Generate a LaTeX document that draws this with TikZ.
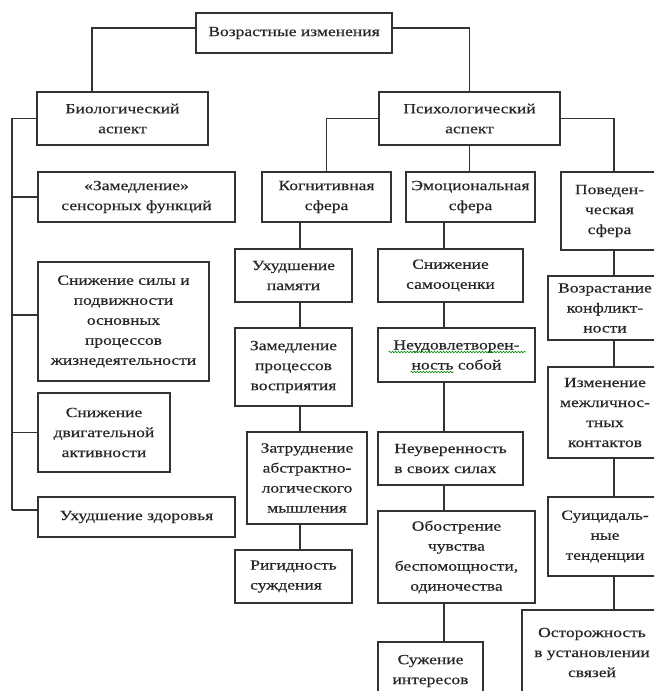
\documentclass[tikz,border=0pt]{standalone}
\usepackage{fontspec}
\setmainfont{Liberation Serif}[FakeStretch=1.25,FakeBold=0.4]
\usetikzlibrary{calc,decorations.pathmorphing}
\begin{document}
\begin{tikzpicture}[x=1pt,y=-1pt,
  box/.style={draw=black!80, line width=1.3pt, fill=white, align=center, inner sep=0pt,
    font=\fontsize{14}{20}\selectfont, text=black!85},
  conn/.style={draw=black!80, line width=1.3pt},
  spell/.style={draw=green!55!black, line width=0.6pt, decorate,
    decoration={snake, amplitude=0.8pt, segment length=3pt}}]
\useasboundingbox (0,0) rectangle (654,691);
\clip (0,0) rectangle (654,691);
\fill[white] (0,0) rectangle (654,691);

% helper coordinates
\coordinate (jTop) at (0,28);
\coordinate (xBio) at (92,0);
\coordinate (busL) at (12,0);
\coordinate (jSily) at (0,315);
\coordinate (jZdor) at (0,510);
\coordinate (xCog) at (300,0);
\coordinate (xEmo) at (444,0);
\coordinate (xBeh) at (614,0);

% level 0-1
\node[box, minimum width=196, minimum height=40] (top) at (294,33) {Возрастные изменения};
\node[box, minimum width=171, minimum height=53] (bio) at (122.5,118.5) {Биологический\\аспект};
\node[box, minimum width=181, minimum height=53] (psy) at (469.5,118.5) {Психологический\\аспект};

% biological
\node[box, minimum width=197, minimum height=50] (sens) at (136.5,197) {«Замедление»\\сенсорных функций};
\node[box, minimum width=171, minimum height=119] (sily) at (123.5,321.5) {Снижение силы и\\подвижности\\основных\\процессов\\жизнедеятельности};
\node[box, minimum width=132, minimum height=79] (dvig) at (104,432.5) {Снижение\\двигательной\\активности};
\node[box, minimum width=197, minimum height=40] (zdor) at (136.5,517) {Ухудшение здоровья};

% spheres
\node[box, minimum width=129, minimum height=50] (cog) at (326.5,197) {Когнитивная\\сфера};
\node[box, minimum width=129, minimum height=50] (emo) at (470.5,197) {Эмоциональная\\сфера};
\node[box, minimum width=97, minimum height=78] (beh) at (609.5,211) {Поведен-\\ческая\\сфера};

% cognitive
\node[box, minimum width=117, minimum height=53] (pam) at (293.5,275.5) {Ухудшение\\памяти};
\node[box, minimum width=117, minimum height=78] (zam) at (293.5,367) {Замедление\\процессов\\восприятия};
\node[box, minimum width=120, minimum height=92] (zat) at (307,478) {Затруднение\\абстрактно-\\логического\\мышления};
\node[box, align=left, minimum width=117, minimum height=53] (rig) at (293.5,576.5) {Ригидность\\суждения};

% emotional
\node[box, minimum width=145, minimum height=53] (sam) at (450.5,275.5) {Снижение\\самооценки};
\node[box, minimum width=157, minimum height=54] (neud) at (456.5,355) {Неудовлетворен-\\ность собой};
\node[box, align=left, minimum width=145, minimum height=53] (neuv) at (450.5,458.5) {Неуверенность\\в своих силах};
\node[box, minimum width=157, minimum height=92] (obo) at (456.5,557) {Обострение\\чувства\\беспомощности,\\одиночества};
\node[box, minimum width=105, minimum height=58] (suzh) at (430.5,671) {Сужение\\интересов};

% behavioural
\node[box, minimum width=114, minimum height=64] (voz) at (605,308) {Возрастание\\конфликт-\\ности};
\node[box, minimum width=114, minimum height=91] (izm) at (605,412.5) {Изменение\\межличнос-\\тных\\контактов};
\node[box, minimum width=114, minimum height=79] (sui) at (605,536.5) {Суицидаль-\\ные\\тенденции};
\node[box, minimum width=140, minimum height=85] (ost) at (592,652.5) {Осторожность\\в установлении\\связей};

% spell-check marks
\draw[spell] ($(neud.center)+(-68,-3)$) -- ($(neud.center)+(69,-3)$);
\draw[spell] ($(neud.center)+(-46,17)$) -- ($(neud.center)+(-3,17)$);

% connectors: top
\draw[conn] (top.west |- jTop) -| (bio.north -| xBio);
\draw[conn] (top.east |- jTop) -| (psy.north);

% biological bus
\draw[conn] (bio.west) -| (busL |- jZdor);
\draw[conn] (busL |- sens.west) -- (sens.west);
\draw[conn] (busL |- jSily) -- (sily.west |- jSily);
\draw[conn] (busL |- dvig.west) -- (dvig.west);
\draw[conn] (busL |- jZdor) -- (zdor.west |- jZdor);

% psychological
\draw[conn] (psy.west) -| (cog.north);
\draw[conn] (psy.south) -- (psy.south |- emo.north);
\draw[conn] (psy.east) -| (beh.north -| xBeh);

% cognitive column
\draw[conn] (cog.south -| xCog) -- (pam.north -| xCog);
\draw[conn] (pam.south -| xCog) -- (zam.north -| xCog);
\draw[conn] (zam.south -| xCog) -- (zat.north -| xCog);
\draw[conn] (zat.south -| xCog) -- (rig.north -| xCog);

% emotional column
\draw[conn] (emo.south -| xEmo) -- (sam.north -| xEmo);
\draw[conn] (sam.south -| xEmo) -- (neud.north -| xEmo);
\draw[conn] (neud.south -| xEmo) -- (neuv.north -| xEmo);
\draw[conn] (neuv.south -| xEmo) -- (obo.north -| xEmo);
\draw[conn] (obo.south -| xEmo) -- (suzh.north -| xEmo);

% behavioural column
\draw[conn] (beh.south -| xBeh) -- (voz.north -| xBeh);
\draw[conn] (voz.south -| xBeh) -- (izm.north -| xBeh);
\draw[conn] (izm.south -| xBeh) -- (sui.north -| xBeh);
\draw[conn] (sui.south -| xBeh) -- (ost.north -| xBeh);
\end{tikzpicture}
\end{document}
